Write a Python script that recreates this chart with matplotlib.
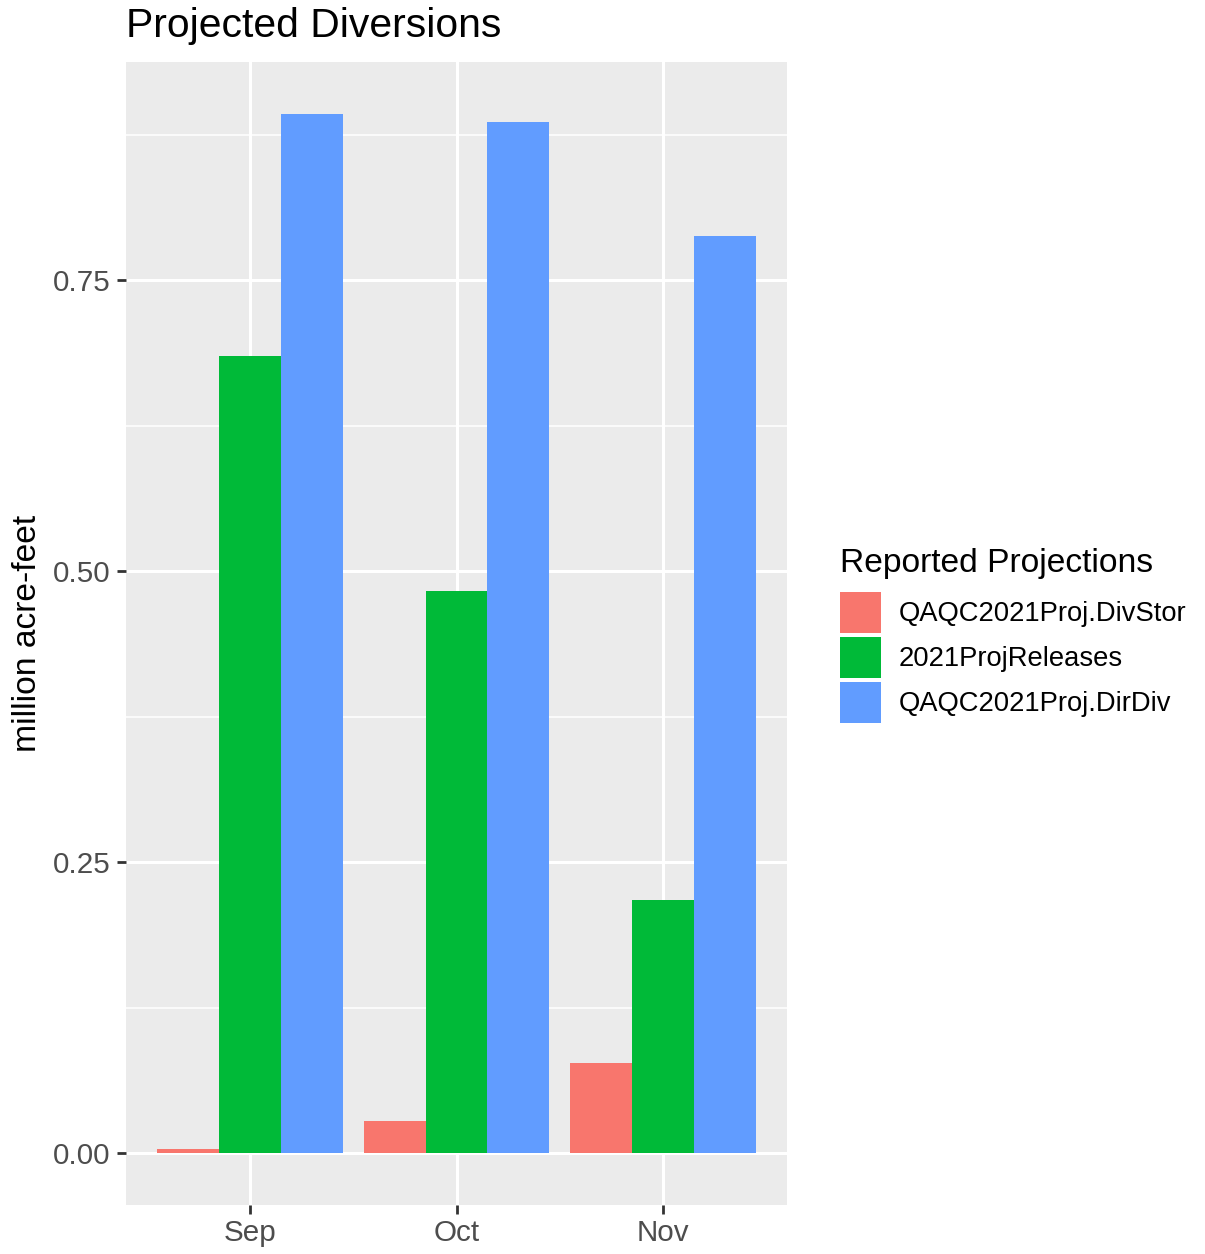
import matplotlib
matplotlib.use("Agg")
import matplotlib.pyplot as plt
import numpy as np
from matplotlib.patches import Patch

plt.rcParams['font.family'] = ['Liberation Sans', 'DejaVu Sans']

months = ["Sep", "Oct", "Nov"]
series_names = ["QAQC2021Proj.DivStor", "2021ProjReleases", "QAQC2021Proj.DirDiv"]
divstor = [0.0037, 0.0273, 0.0771]
releases = [0.685, 0.483, 0.2176]
dirdiv = [0.893, 0.886, 0.788]
colors = ["#F8766D", "#00BA38", "#619CFF"]
yticks = [0.00, 0.25, 0.50, 0.75]
ytick_labels = ["0.00", "0.25", "0.50", "0.75"]

W, H = 1205, 1254
fig = plt.figure(figsize=(W / 100, H / 100), dpi=100)
ax = fig.add_axes([126 / W, 1 - 1205 / H, (787 - 126) / W, (1205 - 62) / H])
ax.set_facecolor("#EBEBEB")

x = np.arange(1, len(months) + 1)
bw = 0.3
all_series = [divstor, releases, dirdiv]
for i, (vals, c, name) in enumerate(zip(all_series, colors, series_names)):
    ax.bar(x + (i - 1) * bw, vals, width=bw, color=c, edgecolor="none",
           label=name, zorder=3)

ymax = max(max(s) for s in all_series)
ax.set_ylim(-0.05 * ymax, 1.05 * ymax)
ax.set_xlim(0.4, 3.6)

ax.set_xticks(x)
ax.set_xticklabels(months)
ax.set_yticks(yticks)
ax.set_yticklabels(ytick_labels)
ax.set_yticks([0.125, 0.375, 0.625, 0.875], minor=True)

ax.grid(which="major", color="white", linewidth=2.2, zorder=1)
ax.grid(which="minor", axis="y", color="white", linewidth=1.1, zorder=1)
ax.set_axisbelow(True)
for s in ax.spines.values():
    s.set_visible(False)

ax.tick_params(axis="both", which="major", length=6.5, width=2.0, color="#333333",
               labelcolor="#4D4D4D", labelsize=21.3)
ax.tick_params(axis="y", which="major", pad=4.5)
ax.tick_params(axis="x", which="major", pad=3.5)
ax.tick_params(which="minor", length=0)

fig.text(126 / W, 1 - 37 / H, "Projected Diversions", fontsize=29.4,
         ha="left", va="baseline", color="black")
fig.text(28 / W, 1 - 633.5 / H, "million acre-feet", fontsize=24.2,
         rotation=90, ha="center", va="center", color="black")

fig.text(840 / W, 1 - 572 / H, "Reported Projections", fontsize=24.2,
         ha="left", va="baseline", color="black")
handles = [Patch(facecolor=c, edgecolor="none") for c in colors]
leg = fig.legend(handles, series_names, loc="upper left",
                 bbox_to_anchor=(840 / W, 1 - 592 / H), frameon=False,
                 fontsize=19.7, handlelength=1.514 * 19.5 / 19.7,
                 handleheight=1.952 * 19.5 / 19.7,
                 handletextpad=0.66, labelspacing=0.148, borderpad=0,
                 borderaxespad=0)

fig.savefig("out.png", dpi=100)
